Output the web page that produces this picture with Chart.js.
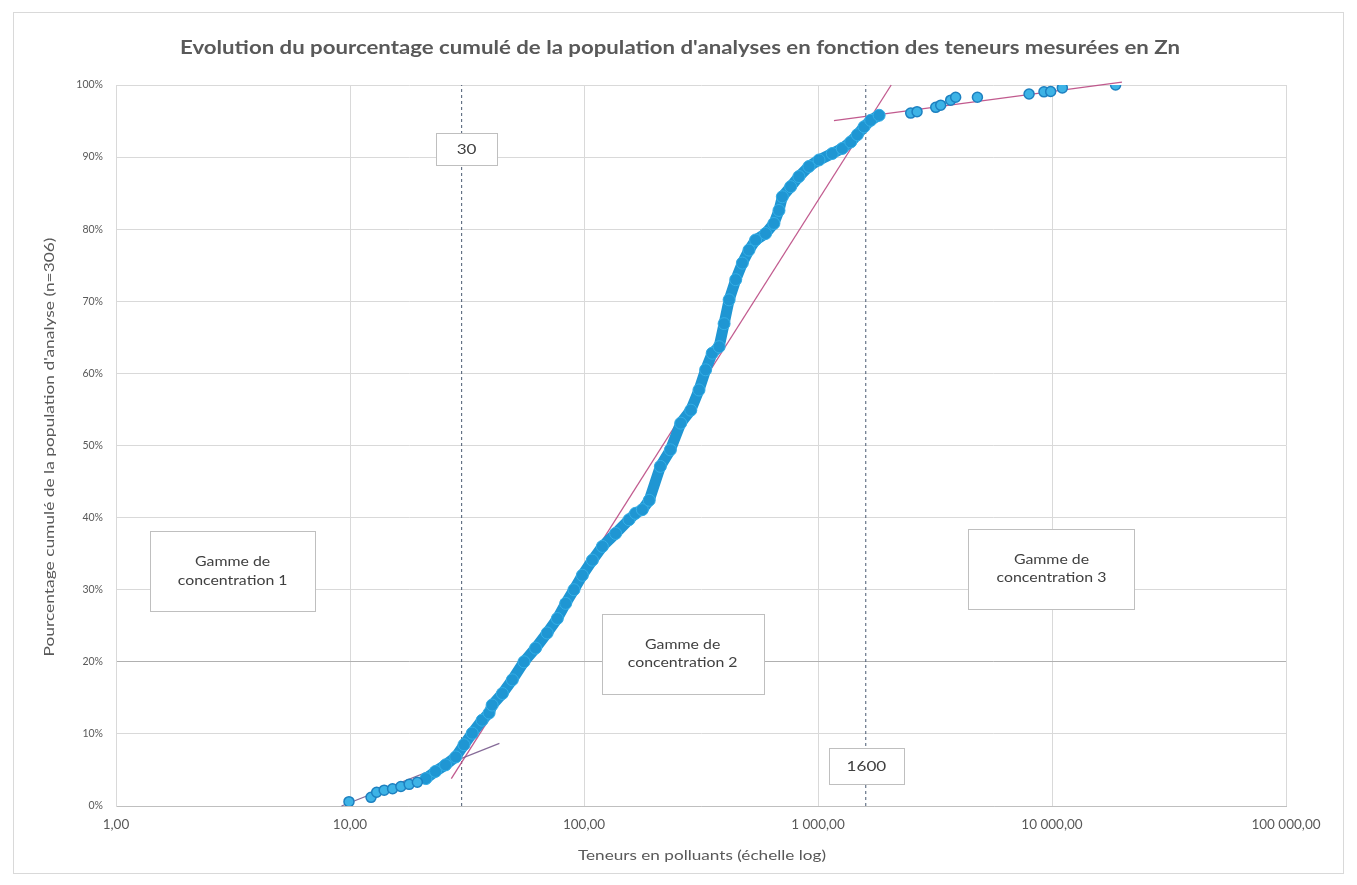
<!DOCTYPE html>
<html>
<head>
<meta charset="utf-8">
<title>Pourcentage cumulé – Zn</title>
<script src="https://cdn.jsdelivr.net/npm/chart.js@4/dist/chart.umd.min.js"></script>
<style>
  html, body { margin: 0; padding: 0; background: #ffffff; }
  #wrap { width: 1357px; height: 885px; position: relative; }
</style>
</head>
<body>
<div id="wrap"><canvas id="chart" width="1357" height="885"></canvas></div>
<script>
// ---- Data: [teneur Zn (mg/kg), pourcentage cumulé (%)] ----
// Gamme 1: first, isolated analyses
const lowRange = [
  [9.9, 0.6], [12.3, 1.2], [13.0, 1.9], [14.0, 2.2], [15.2, 2.4],
  [16.5, 2.7], [17.9, 3.0], [19.4, 3.3]
];
// Dense central part of the distribution
const midRange = [
  [21.1, 3.8], [23.2, 4.8], [25.6, 5.7], [28.3, 6.8], [30.7, 8.5],
  [33.3, 10.1], [36.7, 11.9], [39.3, 12.9], [40.5, 14.0], [44.8, 15.6],
  [49.4, 17.5], [55.4, 20.0], [62.1, 21.9], [69.6, 24.0], [76.9, 26.0],
  [83.5, 28.1], [90.6, 30.0], [98.4, 32.0], [108.6, 34.1], [119.8, 36.0],
  [136.5, 37.8], [155.7, 39.7], [166, 40.6], [177.5, 41.1], [190, 42.4],
  [212, 47.1], [234, 49.4], [259, 53.1], [286, 54.9], [310, 57.7],
  [331, 60.5], [353, 62.8], [378, 63.7], [397, 66.9], [417, 70.2],
  [445, 73.0], [475, 75.3], [507, 77.1], [541, 78.5], [597, 79.4],
  [648, 80.8], [681, 82.6], [704, 84.5], [764, 85.9], [829, 87.3],
  [915, 88.7], [1010, 89.6], [1151, 90.5], [1270, 91.2], [1380, 92.1],
  [1473, 93.1], [1573, 94.2], [1680, 95.1], [1825, 95.8]
];
// Gamme 3: highest values
const highRange = [
  [2490, 96.1], [2650, 96.3], [3185, 96.9], [3345, 97.2], [3690, 97.9],
  [3875, 98.3], [4800, 98.3], [7980, 98.75], [9240, 99.05], [9870, 99.1],
  [11070, 99.6], [18700, 100]
];
// Linear trend lines (log x) fitted on each range
const trendLow  = [[9.2, 0.0], [43.5, 8.7]];
const trendMid  = [[27.1, 3.8], [2055, 100]];
const trendHigh = [[1170, 95.05], [19900, 100.4]];
// Range boundaries
const thresholds = [30, 1600];

// ---- Axes ----
const xDecades = [1, 10, 100, 1000, 10000, 100000];
const xTickLabels = ['1,00', '10,00', '100,00', '1 000,00', '10 000,00', '100 000,00'];
const yTicks = [0, 10, 20, 30, 40, 50, 60, 70, 80, 90, 100];

// ---- Texts ----
const chartTitle = "Evolution du pourcentage cumulé de la population d'analyses en fonction des teneurs mesurées en Zn";
const xTitle = 'Teneurs en polluants (échelle log)';
const yTitle = "Pourcentage cumulé de la population d'analyse (n=306)";
const noteTexts = [
  ['30'],
  ['1600'],
  ['Gamme de', 'concentration 1'],
  ['Gamme de', 'concentration 2'],
  ['Gamme de', 'concentration 3']
];
// Text box placement (anchored in axis units) and size in px
const noteLayout = [
  { x: 31.5, y: 91.1, w: 61, h: 32, size: 14 },
  { x: 1610, y: 5.5, w: 75, h: 36, size: 14 },
  { x: 3.15, y: 32.6, w: 165, h: 80, size: 13 },
  { x: 264, y: 21.1, w: 162, h: 80, size: 13 },
  { x: 9950, y: 32.9, w: 166, h: 80, size: 13 }
];

const FONT = 'Lato, "Open Sans", sans-serif';
const GREY = '#595959';
const toPts = arr => arr.map(([x, y]) => ({ x, y }));

// Draws text centred on (cx, cy), widened horizontally by factor sx
function wideText(ctx, text, cx, cy, sx) {
  ctx.save();
  ctx.translate(cx, cy);
  ctx.scale(sx, 1);
  ctx.textAlign = 'center';
  ctx.textBaseline = 'middle';
  ctx.fillText(text, 0, 0);
  ctx.restore();
}
// Same, but widened so the text spans the given width
function fitText(ctx, text, cx, cy, width) {
  wideText(ctx, text, cx, cy, width / ctx.measureText(text).width);
}

const markerStyle = {
  pointRadius: 5,
  pointHoverRadius: 5,
  pointBackgroundColor: '#3db3e6',
  pointBorderColor: '#1d80c0',
  pointBorderWidth: 1.5
};
const trendStyle = {
  showLine: true,
  borderColor: 'rgba(186, 72, 130, 0.9)',
  borderWidth: 1.3,
  pointRadius: 0,
  clip: false
};

const datasets = [
  ...thresholds.map(t => ({
    label: 'limite ' + t,
    data: [{ x: t, y: 0 }, { x: t, y: 100 }],
    showLine: true,
    borderColor: '#4a5a72',
    borderWidth: 1,
    borderDash: [3, 3],
    pointRadius: 0,
    order: 5
  })),
  { label: 'tendance 1', data: toPts(trendLow), ...trendStyle, borderColor: 'rgba(120, 90, 140, 0.9)', order: 4 },
  { label: 'tendance 2', data: toPts(trendMid), ...trendStyle, order: 4 },
  { label: 'tendance 3', data: toPts(trendHigh), ...trendStyle, order: 4 },
  { label: 'gamme 1', data: toPts(lowRange), ...markerStyle, order: 1 },
  {
    // overlapping markers of the dense part read as one thick band
    label: 'gamme 2', data: toPts(midRange),
    showLine: true, borderColor: '#1f96d3', borderWidth: 11,
    borderJoinStyle: 'round', borderCapStyle: 'round',
    pointRadius: 6, pointHoverRadius: 6,
    pointBackgroundColor: '#1f96d3', pointBorderColor: '#35aee6', pointBorderWidth: 1,
    order: 2
  },
  { label: 'gamme 3', data: toPts(highRange), ...markerStyle, order: 1 }
];

// Frame, titles and text boxes
const decor = {
  id: 'decor',
  beforeDraw(chart) {
    const { ctx, width, height } = chart;
    ctx.save();
    ctx.fillStyle = '#ffffff';
    ctx.fillRect(0, 0, width, height);
    ctx.strokeStyle = '#d9d9d9';
    ctx.lineWidth = 1;
    ctx.strokeRect(13.5, 12.5, width - 27, height - 24);
    ctx.restore();
  },
  afterDatasetsDraw(chart) {
    const { ctx, scales } = chart;
    ctx.save();
    noteLayout.forEach((n, i) => {
      const cx = scales.x.getPixelForValue(n.x);
      const cy = scales.y.getPixelForValue(n.y);
      const x0 = Math.round(cx - n.w / 2) + 0.5;
      const y0 = Math.round(cy - n.h / 2) + 0.5;
      ctx.fillStyle = '#ffffff';
      ctx.fillRect(x0, y0, n.w, n.h);
      ctx.strokeStyle = '#bfbfbf';
      ctx.lineWidth = 1;
      ctx.strokeRect(x0, y0, n.w, n.h);
      ctx.fillStyle = '#404040';
      ctx.font = n.size + 'px ' + FONT;
      const lines = noteTexts[i];
      const lh = n.size * 1.45;
      lines.forEach((t, k) => {
        wideText(ctx, t, cx, cy + (k - (lines.length - 1) / 2) * lh, 1.22);
      });
    });
    ctx.restore();
  },
  afterDraw(chart) {
    const { ctx } = chart;
    ctx.save();
    ctx.fillStyle = GREY;
    ctx.font = 'bold 18px ' + FONT;
    fitText(ctx, chartTitle, 680, 48, 1000);
    ctx.font = '13px ' + FONT;
    fitText(ctx, xTitle, 702, 856, 248);
    ctx.translate(50, 447);
    ctx.rotate(-Math.PI / 2);
    fitText(ctx, yTitle, 0, 0, 419);
    ctx.restore();
  }
};

new Chart(document.getElementById('chart'), {
  type: 'scatter',
  data: { datasets },
  options: {
    responsive: false,
    animation: false,
    devicePixelRatio: 1,
    layout: { padding: { top: 85, right: 71, bottom: 0, left: 0 } },
    plugins: { legend: { display: false }, tooltip: { enabled: false }, title: { display: false } },
    scales: {
      x: {
        type: 'logarithmic',
        min: 1,
        max: 100000,
        afterBuildTicks: s => { s.ticks = xDecades.map(v => ({ value: v })); },
        afterFit: s => { s.height = 79; },
        ticks: {
          autoSkip: false,
          maxRotation: 0,
          padding: 11,
          color: GREY,
          font: { family: FONT, size: 13.5 },
          callback: v => { const i = xDecades.indexOf(v); return i >= 0 ? xTickLabels[i] : ''; }
        },
        grid: { color: '#d9d9d9', drawTicks: false },
        border: { color: '#bfbfbf' }
      },
      y: {
        type: 'linear',
        min: 0,
        max: 100,
        afterBuildTicks: s => { s.ticks = yTicks.map(v => ({ value: v })); },
        afterFit: s => { s.width = 116; },
        ticks: {
          padding: 13,
          color: GREY,
          font: { family: FONT, size: 10.5 },
          callback: v => v + '%'
        },
        grid: { color: c => (c.tick && c.tick.value === 20 ? '#b0b0b0' : '#d9d9d9'), drawTicks: false },
        border: { color: '#d9d9d9' }
      }
    }
  },
  plugins: [decor]
});
</script>
</body>
</html>
